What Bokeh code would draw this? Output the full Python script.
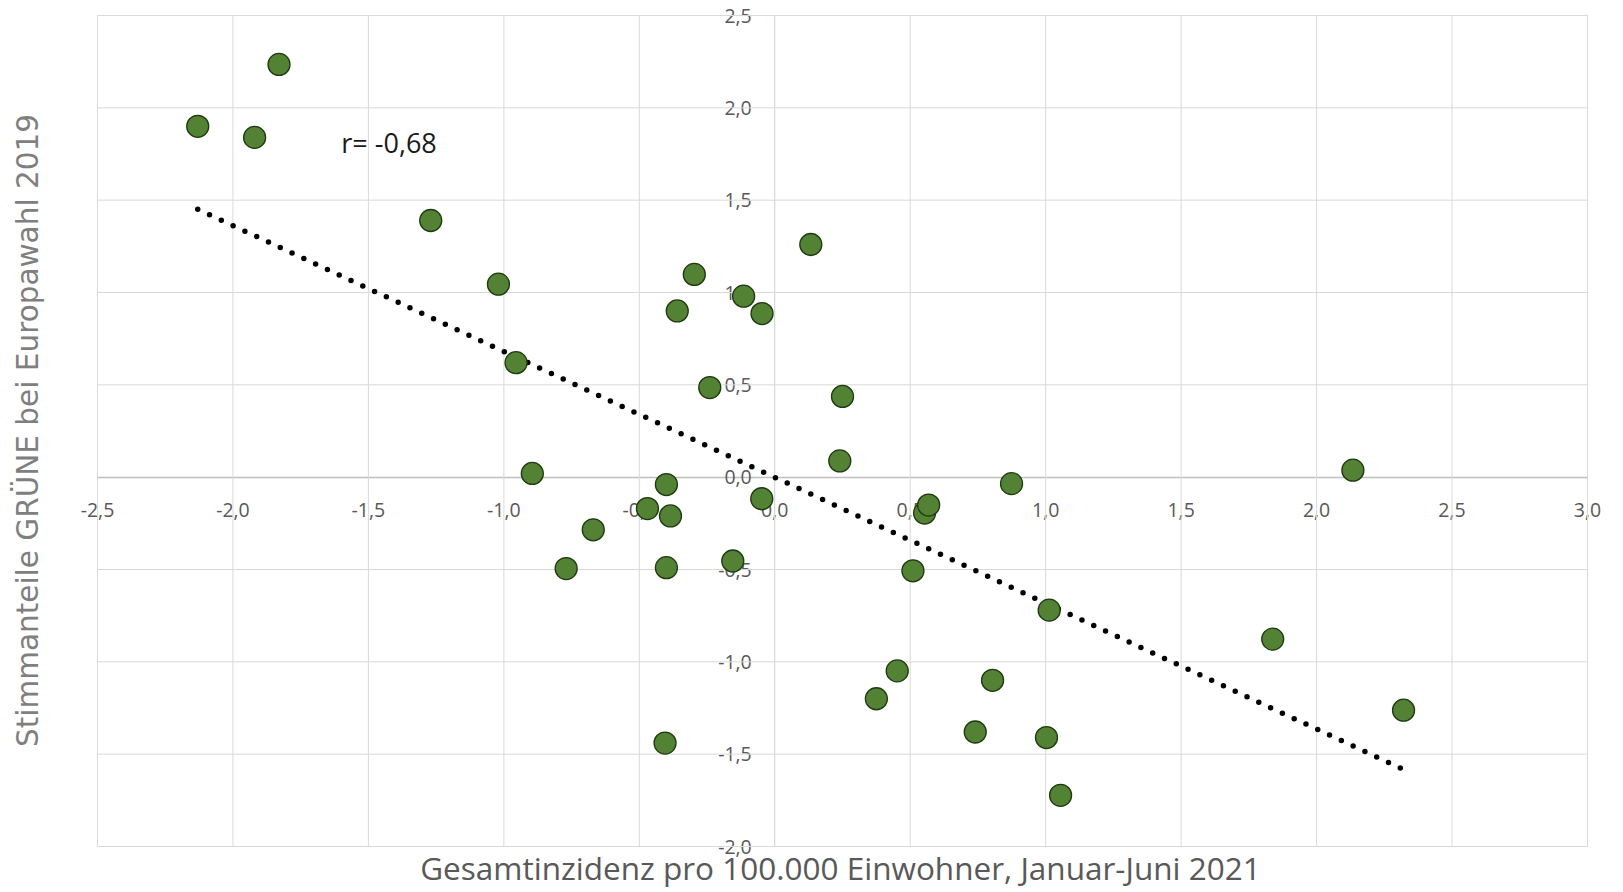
import numpy as np
from bokeh.plotting import figure
from bokeh.models import Range1d, FixedTicker, Label, LinearAxis, ColumnDataSource
from bokeh.embed import file_html
from bokeh.resources import INLINE

# ---- data ----
x_vals = [-2.13, -1.92, -1.83, -1.27, -1.02, -0.955, -0.895, -0.77, -0.67, -0.47,
          -0.40, -0.385, -0.40, -0.405, -0.36, -0.297, -0.24, -0.155, -0.115, -0.047,
          -0.048, 0.133, 0.24, 0.25, 0.375, 0.452, 0.51, 0.553, 0.568, 0.74,
          0.804, 0.874, 1.003, 1.013, 1.055, 1.838, 2.134, 2.321]
y_vals = [1.90, 1.84, 2.235, 1.39, 1.045, 0.62, 0.02, -0.495, -0.285, -0.17,
          -0.04, -0.21, -0.49, -1.44, 0.90, 1.098, 0.485, -0.454, 0.98, 0.886,
          -0.117, 1.26, 0.088, 0.437, -1.20, -1.049, -0.507, -0.194, -0.151, -1.38,
          -1.10, -0.035, -1.41, -0.72, -1.723, -0.877, 0.038, -1.262]

x_ticks = [-2.5, -2.0, -1.5, -1.0, -0.5, 0.0, 0.5, 1.0, 1.5, 2.0, 2.5, 3.0]
x_tick_labels = ["-2,5", "-2,0", "-1,5", "-1,0", "-0,5", "0,0", "0,5", "1,0", "1,5", "2,0", "2,5", "3,0"]
y_ticks = [-2.0, -1.5, -1.0, -0.5, 0.0, 0.5, 1.0, 1.5, 2.0, 2.5]
y_tick_labels = ["-2,0", "-1,5", "-1,0", "-0,5", "0,0", "0,5", "1,0", "1,5", "2,0", "2,5"]

r_text = "r= -0,68"
r_pos = (-1.60, 1.81)
x_title = "Gesamtinzidenz pro 100.000 Einwohner, Januar-Juni 2021"
y_title = "Stimmanteile GRÜNE bei Europawahl 2019"

GRID = "#d9d9d9"
LABEL_GREY = "#595959"

# ---- layout (pixels) ----
W, H = 1623, 892
BOX_L, BOX_R, BOX_T, BOX_B = 97, 1587, 15, 846      # the gridded plot box
PAD_L, PAD_R, PAD_T, PAD_B = 24, 20, 14, 13         # room so edge tick labels are not clipped
px_x = (BOX_R - BOX_L) / (x_ticks[-1] - x_ticks[0])
px_y = (BOX_B - BOX_T) / (y_ticks[-1] - y_ticks[0])

p = figure(width=W, height=H,
           x_range=Range1d(x_ticks[0] - PAD_L / px_x, x_ticks[-1] + PAD_R / px_x),
           y_range=Range1d(y_ticks[0] - PAD_B / px_y, y_ticks[-1] + PAD_T / px_y),
           output_backend="svg", toolbar_location=None,
           min_border_left=BOX_L - PAD_L, min_border_right=W - BOX_R - PAD_R,
           min_border_top=BOX_T - PAD_T, min_border_bottom=H - BOX_B - PAD_B)

p.background_fill_color = "white"
p.border_fill_color = "white"
p.outline_line_color = None
p.xgrid.visible = False
p.ygrid.visible = False

# grid box drawn from the tick values
nx, ny = len(x_ticks), len(y_ticks)
p.segment(x0=x_ticks, x1=x_ticks, y0=[y_ticks[0]] * nx, y1=[y_ticks[-1]] * nx,
          line_color=GRID, line_width=1)
hy = [t for t in y_ticks if t != 0]
p.segment(x0=[x_ticks[0]] * len(hy), x1=[x_ticks[-1]] * len(hy), y0=hy, y1=hy,
          line_color=GRID, line_width=1)

# axes crossing at zero
for ax, ticks, labels in ((p.xaxis[0], x_ticks, x_tick_labels), (p.yaxis[0], y_ticks, y_tick_labels)):
    ax.fixed_location = 0
    ax.bounds = (ticks[0], ticks[-1])
    ax.ticker = FixedTicker(ticks=ticks)
    ax.major_label_overrides = {t: l for t, l in zip(ticks, labels)}
    ax.major_tick_in = 0
    ax.major_tick_out = 0
    ax.minor_tick_in = 0
    ax.minor_tick_out = 0
    ax.major_label_text_font = "Open Sans"
    ax.major_label_text_font_size = "19.5px"
    ax.major_label_text_color = LABEL_GREY
    ax.level = "underlay"
p.xaxis[0].major_label_standoff = 26
p.yaxis[0].major_label_standoff = 23
p.xaxis[0].axis_line_color = "#bfbfbf"
p.xaxis[0].axis_line_width = 1.5
p.yaxis[0].axis_line_color = GRID

# axis titles carried by label-only axes in the side panels
yt = LinearAxis(ticker=FixedTicker(ticks=[]), axis_label=y_title,
                axis_line_color=None, major_tick_in=0, major_tick_out=0,
                minor_tick_in=0, minor_tick_out=0, major_label_text_font_size="0px",
                axis_label_standoff=29, axis_label_text_font="DejaVu Sans",
                axis_label_text_font_size="29.5px", axis_label_text_font_style="normal",
                axis_label_text_color="#7f7f7f")
p.add_layout(yt, "left")
xt = LinearAxis(ticker=FixedTicker(ticks=[]), axis_label=x_title,
                axis_line_color=None, major_tick_in=0, major_tick_out=0,
                minor_tick_in=0, minor_tick_out=0, major_label_text_font_size="0px",
                axis_label_standoff=-14, axis_label_text_font="Open Sans",
                axis_label_text_font_size="31.5px", axis_label_text_font_style="normal",
                axis_label_text_color=LABEL_GREY)
p.add_layout(xt, "below")

# trend line (least-squares fit of the data)
xa = np.array(x_vals)
ya = np.array(y_vals)
slope, intercept = np.polyfit(xa, ya, 1)
tx = np.array([xa.min(), xa.max()])
p.line(tx, slope * tx + intercept, line_color="black", line_width=5.5,
       line_dash="0 13", line_cap="round")

# points
src = ColumnDataSource(dict(x=x_vals, y=y_vals))
p.scatter("x", "y", source=src, size=22, fill_color="#548235",
          line_color="#1f3a10", line_width=1.3)

# correlation label
p.add_layout(Label(x=r_pos[0], y=r_pos[1], text=r_text, text_font="Open Sans",
                   text_font_size="27px", text_color="#1a1a1a",
                   text_baseline="middle", text_align="left"))

open("out.html", "w").write(file_html(p, INLINE))
